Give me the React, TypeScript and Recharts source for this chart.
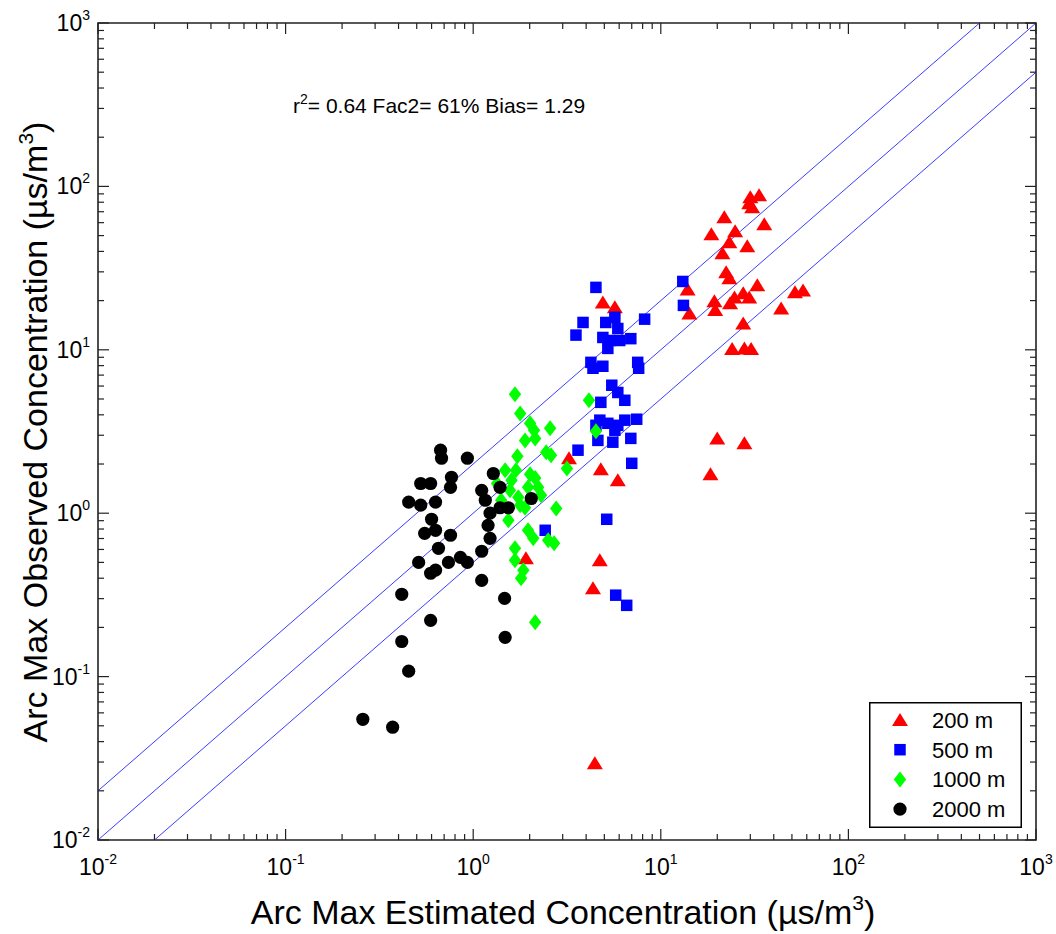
import { ScatterChart, Scatter, XAxis, YAxis, ReferenceLine, ReferenceArea, Legend } from 'recharts'

// Arc max estimated (x) vs observed (y) concentrations, by arc distance
const arc200 = [
  { x: 30.0, y: 85.8 }, { x: 33.4, y: 88.3 }, { x: 29.6, y: 78.8 }, { x: 30.7, y: 74.5 },
  { x: 21.8, y: 64.7 }, { x: 35.6, y: 58.6 }, { x: 24.9, y: 53.1 }, { x: 18.6, y: 50.9 },
  { x: 23.2, y: 45.5 }, { x: 28.9, y: 43.0 }, { x: 21.3, y: 39.0 }, { x: 22.3, y: 29.8 },
  { x: 23.2, y: 27.4 }, { x: 32.7, y: 24.8 }, { x: 13.9, y: 23.4 }, { x: 27.5, y: 22.2 },
  { x: 24.7, y: 20.9 }, { x: 29.6, y: 20.9 }, { x: 51.9, y: 22.5 }, { x: 57.3, y: 23.1 },
  { x: 19.3, y: 19.8 }, { x: 23.4, y: 19.3 }, { x: 19.5, y: 17.5 }, { x: 14.2, y: 16.7 },
  { x: 43.8, y: 17.9 }, { x: 27.5, y: 14.5 }, { x: 24.0, y: 10.1 }, { x: 27.9, y: 10.2 },
  { x: 30.3, y: 10.1 }, { x: 20.0, y: 2.87 }, { x: 27.9, y: 2.68 }, { x: 18.4, y: 1.73 },
  { x: 4.91, y: 19.5 }, { x: 5.69, y: 18.2 }, { x: 3.24, y: 2.17 }, { x: 1.91, y: 0.53 },
  { x: 4.79, y: 1.86 }, { x: 5.9, y: 1.59 }, { x: 4.73, y: 0.515 }, { x: 4.35, y: 0.347 },
  { x: 4.45, y: 0.0295 },
]

const arc500 = [
  { x: 4.51, y: 24.1 }, { x: 3.85, y: 14.7 }, { x: 3.53, y: 12.3 }, { x: 5.09, y: 14.7 },
  { x: 5.69, y: 15.8 }, { x: 5.9, y: 13.5 }, { x: 4.91, y: 11.9 }, { x: 5.35, y: 11.4 },
  { x: 6.04, y: 11.4 }, { x: 6.92, y: 11.7 }, { x: 5.22, y: 10.2 }, { x: 8.2, y: 15.4 },
  { x: 4.24, y: 8.38 }, { x: 4.35, y: 7.71 }, { x: 4.91, y: 7.93 }, { x: 7.53, y: 8.38 },
  { x: 7.62, y: 7.71 }, { x: 5.48, y: 6.07 }, { x: 5.9, y: 5.48 }, { x: 4.79, y: 4.77 },
  { x: 6.43, y: 4.91 }, { x: 4.73, y: 3.71 }, { x: 5.22, y: 3.55 }, { x: 4.51, y: 3.45 },
  { x: 5.9, y: 3.45 }, { x: 6.43, y: 3.71 }, { x: 7.44, y: 3.76 }, { x: 5.69, y: 3.22 },
  { x: 4.62, y: 2.79 }, { x: 5.55, y: 2.72 }, { x: 6.92, y: 2.87 }, { x: 3.62, y: 2.43 },
  { x: 7.0, y: 2.02 }, { x: 5.15, y: 0.918 }, { x: 2.42, y: 0.786 }, { x: 5.75, y: 0.315 },
  { x: 6.58, y: 0.273 }, { x: 13.1, y: 26.2 }, { x: 13.2, y: 18.7 },
]

const arc1000 = [
  { x: 1.67, y: 5.35 }, { x: 1.78, y: 4.08 }, { x: 2.01, y: 3.55 }, { x: 2.11, y: 3.22 },
  { x: 2.57, y: 3.31 }, { x: 1.89, y: 2.79 }, { x: 2.14, y: 2.87 }, { x: 2.45, y: 2.36 },
  { x: 2.6, y: 2.26 }, { x: 1.72, y: 2.23 }, { x: 1.48, y: 1.83 }, { x: 1.69, y: 1.83 },
  { x: 2.01, y: 1.73 }, { x: 2.14, y: 1.64 }, { x: 1.6, y: 1.59 }, { x: 1.96, y: 1.44 },
  { x: 2.22, y: 1.44 }, { x: 1.57, y: 1.38 }, { x: 2.3, y: 1.29 }, { x: 1.74, y: 1.25 },
  { x: 1.78, y: 1.12 }, { x: 2.77, y: 1.07 }, { x: 1.54, y: 0.904 }, { x: 1.96, y: 0.786 },
  { x: 2.09, y: 0.702 }, { x: 2.51, y: 0.683 }, { x: 2.7, y: 0.654 }, { x: 1.67, y: 0.61 },
  { x: 1.67, y: 0.515 }, { x: 1.85, y: 0.448 }, { x: 1.8, y: 0.4 }, { x: 2.14, y: 0.215 },
  { x: 4.14, y: 4.91 }, { x: 3.16, y: 1.88 }, { x: 4.51, y: 3.17 }, { x: 1.34, y: 1.52 },
  { x: 1.41, y: 1.2 }, { x: 1.89, y: 1.08 },
]

const arc2000 = [
  { x: 0.258, y: 0.0548 }, { x: 0.372, y: 0.049 }, { x: 0.416, y: 0.319 }, { x: 0.416, y: 0.164 },
  { x: 0.453, y: 0.108 }, { x: 0.453, y: 1.17 }, { x: 0.525, y: 1.52 }, { x: 0.593, y: 1.52 },
  { x: 0.525, y: 1.12 }, { x: 0.63, y: 1.17 }, { x: 0.6, y: 0.918 }, { x: 0.551, y: 0.753 },
  { x: 0.63, y: 0.786 }, { x: 0.512, y: 0.5 }, { x: 0.593, y: 0.429 }, { x: 0.63, y: 0.448 },
  { x: 0.593, y: 0.221 }, { x: 0.67, y: 2.43 }, { x: 0.678, y: 2.17 }, { x: 0.931, y: 2.17 },
  { x: 0.766, y: 1.66 }, { x: 0.757, y: 1.44 }, { x: 0.757, y: 0.733 }, { x: 0.653, y: 0.61 },
  { x: 0.738, y: 0.5 }, { x: 0.855, y: 0.537 }, { x: 0.931, y: 0.5 }, { x: 1.11, y: 0.388 },
  { x: 1.47, y: 0.301 }, { x: 1.48, y: 0.174 }, { x: 1.28, y: 1.75 }, { x: 1.39, y: 1.44 },
  { x: 1.11, y: 1.38 }, { x: 1.16, y: 1.2 }, { x: 1.54, y: 1.08 }, { x: 1.39, y: 1.08 },
  { x: 1.23, y: 1.0 }, { x: 1.2, y: 0.843 }, { x: 1.23, y: 0.702 }, { x: 1.11, y: 0.585 },
  { x: 2.04, y: 1.23 },
]

// axis decades and minor steps (log axes, both 10^-2 .. 10^3)
const DECADES = [-2, -1, 0, 1, 2, 3]
const MINOR_STEPS = [2, 3, 4, 5, 6, 7, 8, 9]
// factor-of-two lines: y = 2x, y = x, y = x/2
const FACTOR_LINES = [2, 1, 0.5]

const FONT = '"Liberation Sans", Arial, Helvetica, sans-serif'
const AXIS_COLOR = '#222'
const W = 1056
const H = 934
const PLOT = { left: 98, top: 23, right: 1036, bottom: 840 }

const DOMAIN: [number, number] = [10 ** DECADES[0], 10 ** DECADES[DECADES.length - 1]]
const LOG_TICKS = DECADES.flatMap((d, i) =>
  i === DECADES.length - 1 ? [10 ** d] : [10 ** d, ...MINOR_STEPS.map((m) => m * 10 ** d)]
)

const isDecade = (v: number) => DECADES.some((d) => Math.abs(v - 10 ** d) < 1e-9 * 10 ** d)

type Kind = 'triangle' | 'square' | 'diamond' | 'circle'

const SERIES: { name: string; data: { x: number; y: number }[]; color: string; kind: Kind }[] = [
  { name: '200 m', data: arc200, color: '#ff0000', kind: 'triangle' },
  { name: '500 m', data: arc500, color: '#0000ff', kind: 'square' },
  { name: '1000 m', data: arc1000, color: '#00ff00', kind: 'diamond' },
  { name: '2000 m', data: arc2000, color: '#000000', kind: 'circle' },
]

function Marker({ kind, cx, cy, fill }: { kind: Kind; cx: number; cy: number; fill: string }) {
  if (kind === 'triangle')
    return <polygon points={`${cx},${cy - 7} ${cx + 8},${cy + 6} ${cx - 8},${cy + 6}`} fill={fill} />
  if (kind === 'square') return <rect x={cx - 5.75} y={cy - 5.75} width={11.5} height={11.5} fill={fill} />
  if (kind === 'diamond')
    return <polygon points={`${cx},${cy - 8} ${cx + 6.2},${cy} ${cx},${cy + 8} ${cx - 6.2},${cy}`} fill={fill} />
  return <circle cx={cx} cy={cy} r={6.6} fill={fill} />
}

// bottom axis tick: inward tick on bottom and top edges, label at decades
function XTick({ x, y, payload }: any) {
  const v = payload.value
  const major = isDecade(v)
  const len = major ? 11 : 6
  return (
    <g>
      <line x1={x} x2={x} y1={y} y2={y - len} stroke={AXIS_COLOR} strokeWidth={1.2} />
      <line x1={x} x2={x} y1={PLOT.top} y2={PLOT.top + len} stroke={AXIS_COLOR} strokeWidth={1.2} />
      {major && (
        <text x={x} y={y + 35} textAnchor="middle" fontFamily={FONT} fontSize={23} fill="#000">
          10
          <tspan dy={-11} fontSize={14}>
            {Math.round(Math.log10(v))}
          </tspan>
        </text>
      )}
    </g>
  )
}

// left axis tick: inward tick on left and right edges, label at decades
function YTick({ x, y, payload }: any) {
  const v = payload.value
  const major = isDecade(v)
  const len = major ? 11 : 6
  return (
    <g>
      <line x1={x} x2={x + len} y1={y} y2={y} stroke={AXIS_COLOR} strokeWidth={1.2} />
      <line x1={PLOT.right - len} x2={PLOT.right} y1={y} y2={y} stroke={AXIS_COLOR} strokeWidth={1.2} />
      {major && (
        <text x={x - 8} y={y + 8} textAnchor="end" fontFamily={FONT} fontSize={23} fill="#000">
          10
          <tspan dy={-11} fontSize={14}>
            {Math.round(Math.log10(v))}
          </tspan>
        </text>
      )}
    </g>
  )
}

function LegendBox() {
  return (
    <svg width={153} height={126} style={{ display: 'block' }}>
      <rect x={0.75} y={0.75} width={151.5} height={124.5} fill="#fff" stroke="#000" strokeWidth={1.5} />
      {SERIES.map((s, i) => {
        const cy = 18 + i * 29.7
        return (
          <g key={s.name}>
            <Marker kind={s.kind} cx={31} cy={cy} fill={s.color} />
            <text x={63} y={cy + 8} fontFamily={FONT} fontSize={22} fill="#000">
              {s.name}
            </text>
          </g>
        )
      })}
    </svg>
  )
}

export default function App() {
  return (
    <div style={{ position: 'absolute', left: 0, top: 0, background: '#fff' }}>
      <ScatterChart
        width={W}
        height={H}
        margin={{ top: PLOT.top, right: W - PLOT.right, bottom: 0, left: 0 }}
      >
        <XAxis
          type="number"
          dataKey="x"
          scale="log"
          domain={DOMAIN}
          allowDataOverflow
          ticks={LOG_TICKS}
          interval={0}
          tick={XTick}
          tickLine={false}
          axisLine={false}
          tickSize={0}
          tickMargin={0}
          height={H - PLOT.bottom}
          label={{
            content: () => (
              <text x={563} y={924} textAnchor="middle" fontFamily={FONT} fontSize={34} fill="#000">
                Arc Max Estimated Concentration (µs/m
                <tspan dy={-14} fontSize={21}>
                  3
                </tspan>
                <tspan dy={14}>)</tspan>
              </text>
            ),
          }}
        />
        <YAxis
          type="number"
          dataKey="y"
          scale="log"
          domain={DOMAIN}
          allowDataOverflow
          ticks={LOG_TICKS}
          interval={0}
          tick={YTick}
          tickLine={false}
          axisLine={false}
          tickSize={0}
          tickMargin={0}
          width={PLOT.left}
          label={{
            content: () => (
              <text
                x={47}
                y={432}
                transform="rotate(-90 47 432)"
                textAnchor="middle"
                fontFamily={FONT}
                fontSize={34}
                fill="#000"
              >
                Arc Max Observed Concentration (µs/m
                <tspan dy={-14} fontSize={21}>
                  3
                </tspan>
                <tspan dy={14}>)</tspan>
              </text>
            ),
          }}
        />
        <ReferenceArea
          x1={DOMAIN[0]}
          x2={DOMAIN[1]}
          y1={DOMAIN[0]}
          y2={DOMAIN[1]}
          fill="none"
          fillOpacity={0}
          stroke={AXIS_COLOR}
          strokeWidth={1.6}
        />
        {FACTOR_LINES.map((f) => (
          <ReferenceLine
            key={f}
            segment={[
              { x: Math.max(DOMAIN[0], DOMAIN[0] / f), y: Math.max(DOMAIN[0], DOMAIN[0] * f) },
              { x: Math.min(DOMAIN[1], DOMAIN[1] / f), y: Math.min(DOMAIN[1], DOMAIN[1] * f) },
            ]}
            stroke="#3c3cff"
            strokeWidth={1}
            ifOverflow="hidden"
          />
        ))}
        {SERIES.map((s) => (
          <Scatter
            key={s.name}
            name={s.name}
            data={s.data}
            fill={s.color}
            isAnimationActive={false}
            shape={(p: any) => <Marker kind={s.kind} cx={p.cx} cy={p.cy} fill={s.color} />}
          />
        ))}
        <Legend
          layout="horizontal"
          verticalAlign="middle"
          align="center"
          wrapperStyle={{ left: 869, top: 702, width: 153, height: 126 }}
          content={() => <LegendBox />}
        />
        <text x={293} y={113} fontFamily={FONT} fontSize={21} fill="#000">
          r
          <tspan dy={-9} fontSize={14}>
            2
          </tspan>
          <tspan dy={9}>= 0.64 Fac2= 61% Bias= 1.29</tspan>
        </text>
      </ScatterChart>
    </div>
  )
}
